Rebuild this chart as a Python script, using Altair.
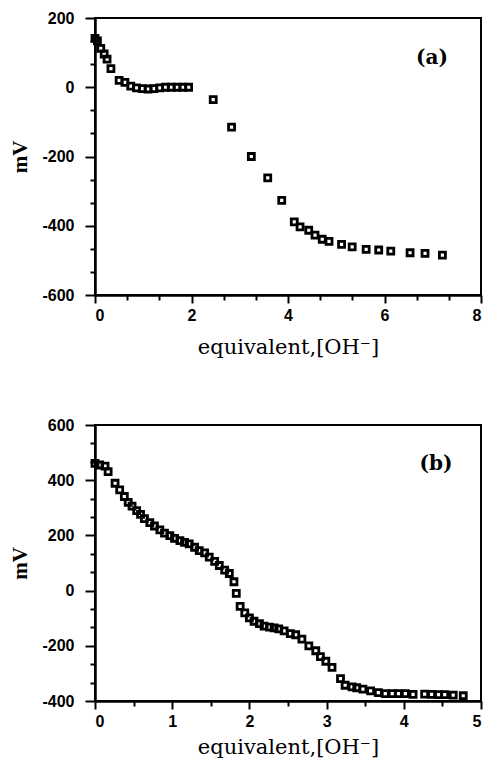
import altair as alt
import pandas as pd

# Panel (a) data
a_x = [0.0, 0.05, 0.12, 0.19, 0.25, 0.33, 0.5, 0.62, 0.74, 0.86, 0.98, 1.1, 1.22,
       1.34, 1.46, 1.58, 1.7, 1.82, 1.94, 2.45, 2.83, 3.24, 3.58, 3.87, 4.13, 4.25,
       4.43, 4.56, 4.71, 4.85, 5.11, 5.33, 5.62, 5.88, 6.13, 6.53, 6.84, 7.2]
a_y = [141, 134, 112, 96, 81, 54, 20, 14, 3, -2, -4, -5, -4,
       -2, 0, 0, 0, 0, 0, -36, -115, -200, -262, -327, -389, -403,
       -413, -427, -439, -445, -454, -461, -468, -470, -473, -478, -480, -485]

# Panel (b) data
b_x = [0.0, 0.06, 0.13, 0.17, 0.26, 0.32, 0.38, 0.43, 0.48, 0.54, 0.59, 0.64, 0.71,
       0.77, 0.84, 0.9, 0.97, 1.03, 1.1, 1.16, 1.22, 1.29, 1.35, 1.42, 1.48, 1.55,
       1.61, 1.68, 1.74, 1.8, 1.83, 1.88, 1.94, 2.0, 2.06, 2.13, 2.19, 2.26, 2.32,
       2.38, 2.45, 2.53, 2.6, 2.68, 2.77, 2.86, 2.92, 2.99, 3.07, 3.18, 3.24, 3.33,
       3.39, 3.47, 3.57, 3.67, 3.76, 3.85, 3.93, 4.02, 4.12, 4.27, 4.36, 4.45, 4.53,
       4.64, 4.77]
b_y = [461, 455, 451, 431, 389, 365, 341, 320, 306, 290, 276, 261, 246,
       234, 220, 208, 199, 189, 181, 175, 169, 157, 145, 137, 121, 106,
       91, 74, 62, 32, -10, -57, -81, -99, -111, -120, -129, -132, -135,
       -139, -146, -156, -160, -176, -200, -218, -239, -256, -278, -319, -343, -349,
       -352, -357, -363, -370, -373, -373, -373, -373, -376, -375, -376, -377, -377,
       -379, -381]

a_xmajor = [0, 2, 4, 6, 8]
a_xminor = [0.667, 1.333, 2.667, 3.333, 4.667, 5.333, 6.667, 7.333]
a_ymajor = [-600, -400, -200, 0, 200]
a_yminor = [-533.3, -466.7, -333.3, -266.7, -133.3, -66.7, 66.7, 133.3]

b_xmajor = [0, 1, 2, 3, 4, 5]
b_xminor = [0.5, 1.5, 2.5, 3.5, 4.5]
b_ymajor = [-400, -200, 0, 200, 400, 600]
b_yminor = [-333.3, -266.7, -133.3, -66.7, 66.7, 133.3, 266.7, 333.3, 466.7, 533.3]

X_TITLE = "equivalent,[OH\u207b]"


def panel(xs, ys, xdom, ydom, xmaj, xmin, ymaj, ymin, tag, tag_x, tag_y, w, h, xtp):
    df = pd.DataFrame({"x": xs, "y": ys})
    xs_scale = alt.Scale(domain=xdom, nice=False, zero=False)
    ys_scale = alt.Scale(domain=ydom, nice=False, zero=False)
    pts = alt.Chart(df).mark_point(
        shape="square", filled=False, color="black", strokeWidth=2.8, size=36, opacity=1
    ).encode(
        x=alt.X("x:Q", scale=xs_scale, axis=alt.Axis(
            values=xmaj, orient="bottom", title=X_TITLE, labelExpr="'' + datum.value",
            tickSize=8, labelPadding=4, titlePadding=xtp,
            titleFont="DejaVu Serif", titleFontSize=21, titleFontWeight="normal",
            titleColor="black")),
        y=alt.Y("y:Q", scale=ys_scale, axis=alt.Axis(
            values=ymaj, orient="left", title="mV", labelExpr="'' + datum.value",
            tickSize=10, labelPadding=11, titlePadding=11,
            titleFont="Liberation Serif", titleFontSize=21, titleFontWeight="bold",
            titleColor="black")),
    )
    minor = alt.Chart(df).mark_point(opacity=0).encode(
        x=alt.X("x:Q", scale=xs_scale, axis=alt.Axis(
            values=xmin, orient="bottom", labels=False, domain=False, title=None, tickSize=5)),
        y=alt.Y("y:Q", scale=ys_scale, axis=alt.Axis(
            values=ymin, orient="left", labels=False, domain=False, title=None, tickSize=5)),
    )
    tagdf = pd.DataFrame({"t": [tag]})
    txt = alt.Chart(tagdf).mark_text(
        font="DejaVu Serif", fontWeight="bold", fontSize=20, color="black",
        align="center", baseline="middle"
    ).encode(text="t:N", x=alt.value(tag_x), y=alt.value(tag_y))
    return alt.layer(pts, minor, txt).resolve_axis(
        x="independent", y="independent"
    ).properties(width=w, height=h)


pa = panel(a_x, a_y, [0, 8], [-600, 200], a_xmajor, a_xminor, a_ymajor, a_yminor,
           "(a)", 337, 40, 386, 277, 13)
pb = panel(b_x, b_y, [0, 5], [-400, 600], b_xmajor, b_xminor, b_ymajor, b_yminor,
           "(b)", 341, 39, 386, 276, 7)

chart = alt.vconcat(pa, pb, spacing=58).properties(
    padding={"left": 0, "top": 1, "right": 0, "bottom": 0}
).configure_view(
    stroke="black", strokeWidth=2
).configure_axis(
    grid=False, domainColor="black", domainWidth=2.5, tickColor="black", tickWidth=2,
    labelFont="Liberation Sans", labelFontWeight="bold", labelFontSize=16,
    labelColor="black"
)

chart.save("out.html", embed_options={"renderer": "svg", "actions": False})
